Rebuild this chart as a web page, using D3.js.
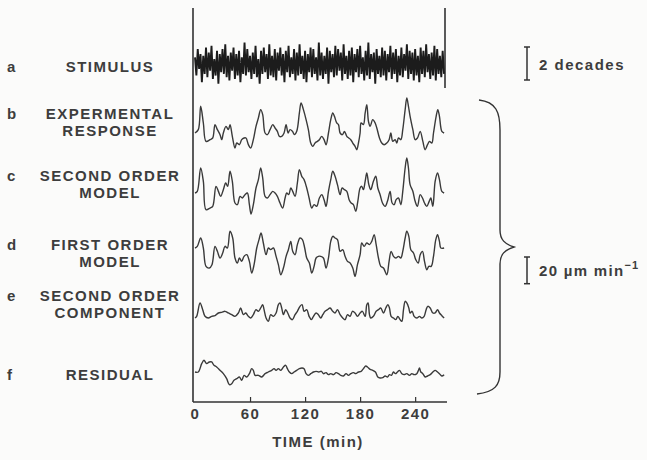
<!DOCTYPE html>
<html><head><meta charset="utf-8">
<script src="https://cdn.jsdelivr.net/npm/d3@7"></script>
<style>
html,body{margin:0;padding:0;background:#fbfbfa;}
svg{display:block;}
text{font-family:"Liberation Sans",Arial,Helvetica,sans-serif;fill:#3d3d3d;font-weight:bold;}
</style></head><body>
<script>
// ---------- DATA ----------
const panelLetters = ["a","b","c","d","e","f"];
const panelLabels = [["STIMULUS"],["EXPERMENTAL","RESPONSE"],["SECOND ORDER","MODEL"],["FIRST ORDER","MODEL"],["SECOND ORDER","COMPONENT"],["RESIDUAL"]];
const xTicks = [0,60,120,180,240];
const xLabel = "TIME (min)";
const stimStep = 1.5; // min between stimulus samples
// stimulus, log10 units (decades) about the mean
const stimulus = [
0.4,-0.7,0.9,-0.3,0.6,-1.1,0.5,-0.6,1.0,-0.8,
0.7,-0.4,1.1,-0.9,0.3,-0.7,0.8,-1.2,0.6,-0.5,
0.9,-0.6,1.2,-0.8,0.5,-1.0,0.7,-0.4,1.0,-0.9,
0.6,-0.7,0.8,-1.1,0.4,-0.6,1.3,-0.7,0.9,-0.5,
0.5,-0.9,0.7,-0.6,1.1,-0.8,0.3,-1.2,0.8,-0.6,
1.0,-0.5,0.6,-0.9,1.2,-0.7,0.5,-0.8,0.9,-1.0,
0.7,-0.4,1.0,-0.7,0.6,-1.1,0.8,-0.5,1.1,-0.8,
0.4,-0.6,0.9,-1.0,0.7,-0.7,1.2,-0.6,0.5,-0.9,
0.8,-1.1,0.6,-0.5,1.0,-0.8,0.9,-0.6,0.4,-1.0,
1.3,-0.7,0.7,-0.9,0.5,-0.6,1.0,-1.2,0.8,-0.5,
0.6,-0.8,1.1,-0.7,0.9,-0.4,0.7,-1.0,1.2,-0.6,
0.5,-0.9,0.8,-0.7,1.0,-1.1,0.6,-0.5,0.9,-0.8,
1.1,-0.6,0.4,-1.0,0.8,-0.7,1.3,-0.9,0.6,-0.5,
0.7,-1.2,0.9,-0.6,0.5,-0.8,1.0,-0.7,0.8,-1.0,
0.6,-0.5,1.1,-0.9,0.7,-0.6,0.9,-1.1,0.5,-0.7,
1.0,-0.8,0.6,-0.4,1.2,-0.9,0.8,-0.6,0.7,-1.0,
0.9,-0.7,0.5,-1.1,1.0,-0.6,0.8,-0.8,1.2,-0.5,
0.6,-0.9,0.7,-0.7,1.1,-1.0,0.9,-0.6,0.5,-0.8,
0.8,-0.6];
// growth-rate traces: [time (min), deviation (µm/min)]
const expResponse = [[0,0],[3.6,2.5],[6.2,20],[9.1,7.5],[12,-6.25],[16.4,-5],[19.3,-3.75],[21.8,6.25],[24.4,2.5],[27.3,-1.25],[29.1,-5],[30.9,0],[33.8,5],[36.4,2.5],[38.2,6.25],[40.7,-2.5],[43.6,-11.25],[45.5,-7.5],[48.4,-8.75],[50.9,-5],[53.5,-3.75],[55.6,-3.75],[58.2,-8.75],[60.7,-11.25],[63.6,-5],[66.5,5],[69.1,11.25],[71.6,17.5],[73.8,13.75],[76.4,0],[78.9,-1.25],[81.8,2.5],[84.7,6.25],[87.3,3.75],[89.8,1.25],[92,-2.5],[94.5,-2.5],[97.1,0],[99.3,6.25],[101.5,0],[103.6,2.5],[106.2,1.25],[108.4,-1.25],[110.9,1.25],[113.8,15],[115.6,22.5],[118.2,17.5],[121.1,10],[123.6,2.5],[126.2,-7.5],[128.4,-10],[130.9,-7.5],[133.5,-6.25],[135.6,-5],[138.2,-2.5],[140.7,-5],[142.9,-8.75],[145.5,0],[148,10],[150.2,15],[152,12.5],[154.5,7.5],[156.4,6.25],[158.2,0],[160.7,-1.25],[162.9,1.25],[165.5,-2.5],[167.6,-3.75],[169.8,-5],[172,-7.5],[174.5,-10],[176.4,-12.5],[178.2,-7.5],[180,0],[181.1,7.5],[183.6,6.25],[185.5,15],[187.3,21.25],[189.1,8.75],[190.9,5],[193.8,10],[196.4,7.5],[198.2,3.75],[201.1,-3.75],[203.6,-7.5],[206.2,-8.75],[209.1,-7.5],[211.6,-5],[213.5,0],[215.6,-6.25],[218.2,-5],[220,-7.5],[221.8,-3.75],[224.4,-5],[226.5,2.5],[229.1,17.5],[230.9,26.25],[232.7,20],[234.5,12.5],[237.5,2.5],[240,-5],[242.5,-3.75],[245.5,1.25],[248.4,-6.25],[250.9,-12.5],[253.5,-8.75],[255.6,-6.25],[258.2,-7.5],[260,0],[262.9,12.5],[264.7,17.5],[266.5,12.5],[269.1,1.25],[271.6,0]];
const secondOrderModel = [[0,0],[2.5,1.25],[6.2,18.75],[9.1,8.75],[12,-12.5],[16.4,-11.25],[19.3,-10],[22.9,5],[25.5,1.25],[28,-2.5],[30.9,2.5],[33.5,7.5],[35.6,5],[38.2,16.25],[40.7,8.75],[43.6,-7.5],[46.2,-8.75],[49.1,-2.5],[51.6,-3.75],[54.5,-1.25],[57.1,0],[59.3,-8.75],[61.1,-15.75],[63.6,-8.75],[66.5,3.75],[69.1,10],[71.6,18.75],[73.8,11.25],[76.4,-2.5],[78.9,-3.75],[81.8,-1.25],[84.7,1.25],[87.3,0],[89.8,-2.5],[92.7,-7.5],[95.6,-11.25],[98.2,-3.75],[100,0],[102.2,-1.25],[104.4,3.75],[106.5,1.25],[109.1,-2.5],[111.6,7.5],[113.8,17.5],[116.4,12.5],[118.9,10],[121.8,3.75],[124.4,-3.75],[127.3,-11.25],[129.8,-8.75],[132.7,-10],[135.6,-3.75],[138.2,-1.25],[140.7,-5],[142.9,-10],[145.5,1.25],[148,10],[150.2,16.25],[152.7,12.5],[155.3,6.25],[158.2,-1.25],[160.4,3.75],[162.9,2.5],[165.5,1.25],[168,-5],[170.2,-7.5],[172.7,-8.75],[175.3,-13.75],[177.5,-6.25],[180,3.75],[181.8,5],[183.6,2.5],[185.5,8.75],[187.3,15],[189.5,6.25],[191.6,2.5],[194.5,8.75],[197.1,12.5],[199.3,3.75],[201.8,-1.25],[204.4,-7.5],[207.3,-10],[209.8,-6.25],[212.7,1.25],[214.9,-7.5],[217.1,-8.75],[219.3,-5],[221.8,-3.75],[224.4,-8.75],[226.5,1.25],[229.1,18.75],[230.9,26.25],[232.7,18.75],[234.5,6.25],[237.5,1.25],[240,-6.25],[242.5,-10],[245.5,-1.25],[248,-3.75],[250.2,-7.5],[252.7,-10],[255.3,-6.25],[257.1,-3.75],[259.3,-10],[261.8,8.75],[264.4,15],[266.5,10],[269.1,1.25],[271.6,0]];
const firstOrderModel = [[0,0],[2.5,1.25],[6.2,7.5],[9.1,0],[12,-13.75],[15.6,-15],[18.5,-12.5],[21.8,1.25],[24.4,-2.5],[27.3,-7.5],[30.2,-3.75],[32.7,1.25],[35.3,0],[38.2,12.5],[41.1,7.5],[43.6,-7.5],[46.2,-11.25],[48.4,-7.5],[50.9,-10],[53.5,-6.25],[56.4,-5],[59.3,-10],[61.8,-18.75],[64.4,-12.5],[67.3,0],[69.8,6.25],[72,11.25],[74.5,3.75],[77.5,-5],[80,0],[82.5,-1.25],[85.5,0],[88.4,-6.25],[90.9,-12.5],[93.5,-20],[96.4,-15],[99.3,-6.25],[101.8,-1.25],[104.4,5],[106.5,-2.5],[109.1,-5],[111.6,2.5],[114.5,7.5],[117.1,6.25],[119.6,0],[121.8,-7.5],[124.7,-11.25],[127.3,-18.75],[129.8,-13.75],[132,-7.5],[134.5,-6.25],[137.1,-6.25],[140,-7.5],[142.9,-15],[145.5,-7.5],[148,5],[150.2,8.75],[152.7,7.5],[155.3,6.25],[158.2,-2.5],[161.1,-1.25],[163.6,-6.25],[166.2,-10],[169.1,-11.25],[172,-15],[174.5,-21.25],[177.1,-12.5],[180,-5],[181.8,3.75],[184.4,1.25],[187.3,3.75],[190.2,2.5],[192.7,5],[195.3,10],[197.5,2.5],[200,-7.5],[202.5,-13.75],[205.5,-15],[209.1,-20],[211.6,-10],[213.8,-2.5],[216.4,-6.25],[218.9,-7.5],[221.8,-6.25],[224.4,-7.5],[226.5,-2.5],[229.1,7.5],[230.9,12.5],[233.1,8.75],[235.3,-1.25],[238.2,-3.75],[240.7,-8.75],[243.3,-11.25],[245.5,-5],[248,-2.5],[250.2,-10],[252.7,-16.25],[254.9,-13.75],[257.5,-13.75],[260,-6.25],[262.5,6.25],[264.4,10],[266.5,5],[268,0],[271.6,0]];
const secondOrderComponent = [[0,0],[1.8,1.25],[5.5,11.25],[8.4,6.25],[10.9,1.25],[14.5,0],[18.2,1.25],[21.8,1.75],[25.5,3.75],[29.1,4.25],[32.7,5],[36.4,3.75],[40,2.5],[43.6,1.25],[47.3,3.75],[49.8,7.5],[52.7,2.5],[55.3,3.75],[58.2,1.25],[60.7,0],[63.6,2.5],[66.5,6.25],[69.1,5],[71.6,7.5],[73.8,10],[75.3,6.25],[77.5,0],[80,-2.5],[82.5,2.5],[85.5,1.25],[88.4,3.75],[90.9,10],[92.7,11.25],[94.5,7.5],[96.4,2.5],[98.9,6.25],[101.1,3.75],[103.6,0],[106.2,-1.25],[109.1,2.5],[111.6,5],[114.5,8.75],[116.7,10],[118.9,5],[121.8,6.25],[124.4,1.25],[126.9,-1.25],[129.1,1.25],[132,3.75],[134.5,2.5],[137.1,0],[139.3,2.5],[141.8,5],[144.4,6.25],[147.3,7.5],[150.2,5],[152.7,3.75],[155.3,6.25],[158.2,2.5],[161.1,0],[163.6,-1.25],[166.2,2.5],[169.1,1.25],[171.6,5],[174.5,3.75],[177.1,1.25],[180,3.75],[182.5,5],[185.5,1.25],[187.3,10],[188.7,11.25],[190.2,2.5],[191.6,0],[194.5,1.25],[197.5,5],[200,6.25],[202.5,7.5],[205.5,3.75],[208,7.5],[210.2,10],[212,7.5],[213.8,1.25],[216.4,0],[218.9,-1.25],[221.1,1.25],[223.6,-1.25],[225.5,-2.5],[227.3,6.25],[229.1,12.5],[230.9,11.25],[233.1,7.5],[234.5,3.75],[236.7,5],[238.9,1.25],[241.8,0],[244.7,1.25],[247.3,0],[249.8,1.25],[252,6.25],[253.8,8.75],[256.4,7.5],[259.3,3.75],[261.8,3.75],[264.4,6.25],[266.5,3.75],[269.1,1.75],[271.6,0]];
const residual = [[0,0],[3.6,0],[7.3,6.25],[9.8,8.75],[12.7,6.25],[15.6,7.5],[18.2,7.5],[20.7,5],[23.6,3.75],[27.3,1.25],[30.9,-1.25],[34.5,-5],[37.5,-9.5],[40,-8.75],[42.5,-6.25],[45.5,-5],[48.4,-3.75],[50.9,-6.25],[53.5,-2.5],[56.4,-3.75],[59.3,-1.25],[61.8,2.5],[63.6,1.25],[65.5,-2.5],[69.1,-2.5],[72.7,-3.75],[76.4,-1.25],[80,0],[83.6,1.25],[86.2,2.5],[88.4,1.25],[90.9,2.5],[93.5,1.25],[96.4,3.75],[98.9,5],[100.7,2.5],[102.9,0],[105.5,-1.25],[108,0],[110.9,1.25],[113.8,2.5],[116.7,3],[118.9,2.5],[121.1,-1.25],[123.6,-2.5],[126.2,-1.25],[129.1,0],[132,0.5],[134.9,0],[137.8,0.5],[140,-1.25],[142.9,-0.5],[145.5,-2],[148,-1.25],[150.9,-2],[153.8,-0.5],[156.4,-1.25],[158.9,-2.5],[161.8,-3],[164.7,-1.25],[167.3,-2.5],[169.8,-1.25],[172.7,-0.5],[175.3,-1.25],[178.2,0],[181.1,0.5],[183.6,2.5],[186.2,4.5],[188,3.75],[190.9,2],[193.8,1.25],[196.7,0],[199.3,-3.75],[201.8,-4.5],[204.7,-4.25],[207.3,-3],[209.8,-3.75],[212,-2],[214.2,-2.5],[216.4,0],[218.5,-1.25],[220.7,0],[222.9,1.25],[225.5,-1.25],[228,-2],[230.9,-1.25],[233.8,-2.5],[236.4,-1.25],[238.9,-2],[241.8,-1.25],[243.6,1.25],[244.7,3],[246.2,0],[248.4,-1.25],[250.9,-3.75],[253.5,-3],[256.4,-2],[259.3,0],[261.8,1.25],[264.4,0],[266.5,-1.25],[269.1,-3],[271.6,-2]];
const scaleBarStim = 2;      // decades
const scaleBarRate = 20;     // µm/min

// ---------- LAYOUT ----------
const W = 647, H = 460;
const FS = 15;
const svg = d3.select("body").append("svg").attr("width", W).attr("height", H);
const x = d3.scaleLinear().domain([0, 272]).range([195, 444.5]);
const pxPerDecade = 16.5, pxPerRate = 26.7 / 20;
const baselines = [64, 133, 193, 248, 318, 372];
const yStim = d3.scaleLinear().domain([0, 1]).range([baselines[0], baselines[0] - pxPerDecade]);
const rateScale = b => d3.scaleLinear().domain([0, 1]).range([b, b - pxPerRate]);

// axes frame
svg.append("line").attr("x1", 193).attr("x2", 193).attr("y1", 8).attr("y2", 402).attr("stroke", "#333").attr("stroke-width", 1.6);
svg.append("line").attr("x1", 445).attr("x2", 445).attr("y1", 8).attr("y2", 88).attr("stroke", "#333").attr("stroke-width", 1.6);

const xAxis = d3.axisBottom(x).tickValues(xTicks).tickSize(-5).tickPadding(6).tickSizeOuter(0);
const gx = svg.append("g").attr("transform", "translate(0,402)").call(xAxis);
gx.select(".domain").attr("d", "M193,0H447").attr("stroke", "#333").attr("stroke-width", 1.4);
gx.selectAll(".tick line").attr("stroke", "#333").attr("stroke-width", 1.2);
gx.selectAll(".tick").filter(d => d === 0).select("line").remove();
gx.selectAll(".tick text").attr("font-size", FS).attr("letter-spacing", 1.5).attr("fill", "#3d3d3d").attr("font-family", "Liberation Sans, Arial, sans-serif").attr("font-weight", "bold");
svg.append("text").attr("x", 318).attr("y", 447).attr("text-anchor", "middle").attr("font-size", FS).attr("letter-spacing", 1.5).text(xLabel);

// stimulus trace
const stimLine = d3.line().x((d, i) => x(i * stimStep)).y(d => yStim(d));
svg.append("path").attr("d", stimLine(stimulus)).attr("fill", "none").attr("stroke", "#1c1c1c").attr("stroke-width", 1.9);

// response traces
const traces = [expResponse, secondOrderModel, firstOrderModel, secondOrderComponent, residual];
traces.forEach((tr, k) => {
  const ys = rateScale(baselines[k + 1]);
  const line = d3.line().x(d => x(d[0])).y(d => ys(d[1])).curve(d3.curveCatmullRom.alpha(0.5));
  svg.append("path").attr("d", line(tr)).attr("fill", "none").attr("stroke", "#3a3a3a").attr("stroke-width", 1.4).attr("stroke-linejoin", "round");
});

// labels
const labelY = [[72], [119, 136], [181, 198], [250, 267], [301, 318], [380]];
panelLetters.forEach((L, i) => {
  svg.append("text").attr("x", 7).attr("y", labelY[i][0]).attr("font-size", FS).text(L);
  panelLabels[i].forEach((s, j) => {
    svg.append("text").attr("x", 110).attr("y", labelY[i][j]).attr("text-anchor", "middle")
      .attr("font-size", FS).attr("letter-spacing", 1.5).text(s);
  });
});

// scale bars
function bar(xp, y0, y1) {
  const g = svg.append("g").attr("stroke", "#333").attr("stroke-width", 1.5);
  g.append("line").attr("x1", xp).attr("x2", xp).attr("y1", y0).attr("y2", y1);
  g.append("line").attr("x1", xp - 3).attr("x2", xp + 3).attr("y1", y0).attr("y2", y0);
  g.append("line").attr("x1", xp - 3).attr("x2", xp + 3).attr("y1", y1).attr("y2", y1);
}
const sb1top = 47;
bar(527, sb1top, sb1top + scaleBarStim * pxPerDecade);
svg.append("text").attr("x", 539).attr("y", 70).attr("font-size", FS).attr("letter-spacing", 1.5).text(scaleBarStim + " decades");
const sb2top = 257;
bar(527, sb2top, sb2top + scaleBarRate * pxPerRate);
const t2 = svg.append("text").attr("x", 539).attr("y", 276).attr("font-size", FS).attr("letter-spacing", 1.3);
t2.append("tspan").text(scaleBarRate + " µm min");
t2.append("tspan").attr("dy", -7).attr("font-size", 11).text("−1");

// brace
svg.append("path")
  .attr("d", "M479,100 C496,102 500,112 500,130 L500,230 C500,240 505,244 514,247 C505,250 500,254 500,264 L500,372 C500,385 495,392 477,394")
  .attr("fill", "none").attr("stroke", "#333").attr("stroke-width", 1.4);
</script>
</body></html>
